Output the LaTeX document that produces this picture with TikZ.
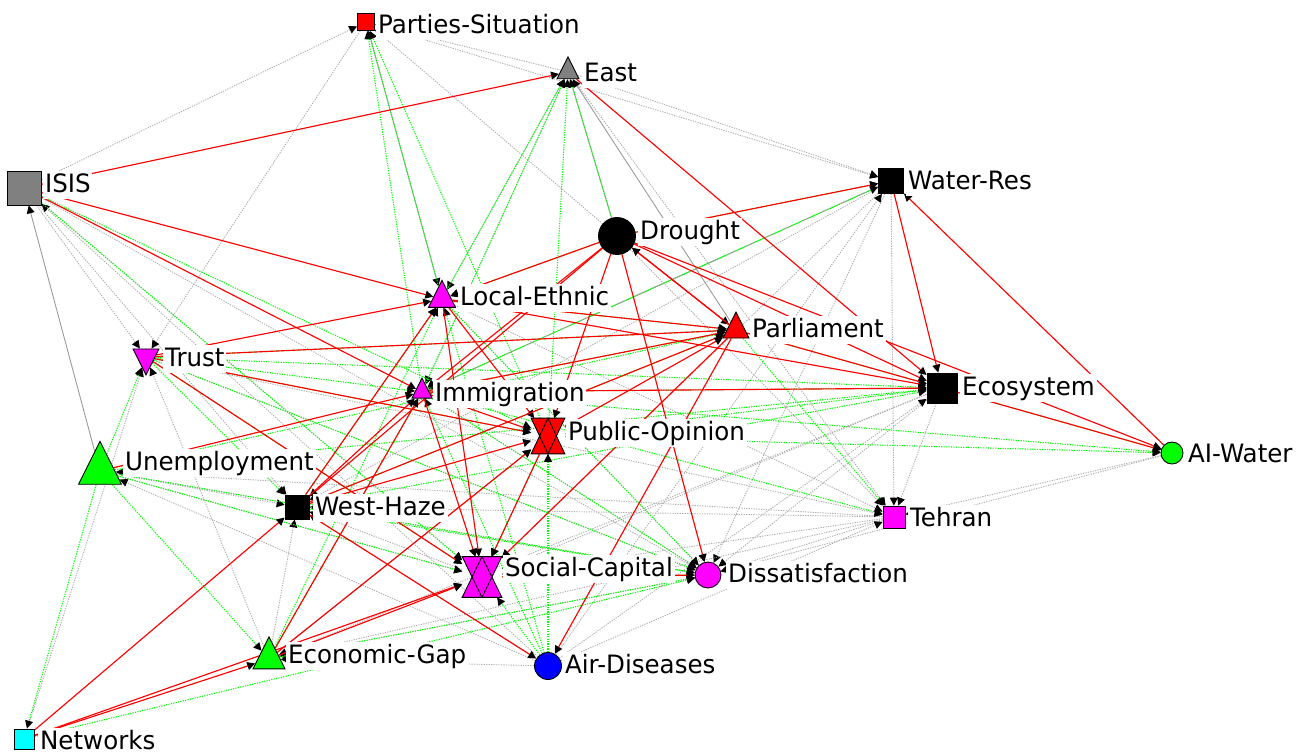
\documentclass[tikz,border=0pt]{standalone}
\usepackage{fontspec}
\newfontfamily\lblfont{DejaVu Sans}[FakeStretch=0.97]
\usetikzlibrary{shapes.geometric,arrows.meta}
\pgfdeclarelayer{bg}
\pgfsetlayers{bg,main}
\definecolor{nred}{RGB}{255,0,0}
\definecolor{ngreen}{RGB}{0,255,0}
\definecolor{nmag}{RGB}{255,0,255}
\definecolor{ncyan}{RGB}{0,255,255}
\definecolor{nblue}{RGB}{0,0,255}
\definecolor{ngray}{RGB}{128,128,128}

% two crossed triangles for the hourglass vertices
\newcommand{\hglass}[2]{%
  \fill[#2] (#1.north west) -- (#1.north east) -- (#1.south) -- cycle;
  \fill[#2] (#1.south west) -- (#1.south east) -- (#1.north) -- cycle;
  \draw[line width=0.5pt] (#1.north west) -- (#1.north east) -- (#1.south) -- cycle
    (#1.south west) -- (#1.south east) -- (#1.north) -- cycle;}

\begin{document}
\begin{tikzpicture}[
	x=0.02cm, y=-0.02cm,                      % one unit = one pixel of the layout
	vtx/.style={draw=black, line width=0.5pt, inner sep=0pt},
	sq/.style={vtx, rectangle, minimum size=#1},
	dot/.style={vtx, circle, minimum size=#1},
	tri/.style={vtx, isosceles triangle, isosceles triangle stretches,
		shape border rotate=90, minimum width=#1, minimum height=#1},
	itri/.style={tri=#1, shape border rotate=270},
	hg/.style={rectangle, inner sep=0pt, minimum width=#1},
	lbl/.style={anchor=west, fill=white, inner sep=1pt, text height=11pt, text depth=3pt,
		font=\lblfont\fontsize{14.4}{16}\selectfont},
	tip/.style={-{Triangle[length=4.5pt,width=4.5pt,black]}},
	redE/.style={tip, nred, line width=0.65pt},
	grnE/.style={tip, ngreen, line width=0.6pt, dash pattern=on 0.7pt off 0.7pt},
	gryE/.style={tip, black!33, line width=0.5pt, dash pattern=on 0.7pt off 0.7pt},
	grsE/.style={tip, black!40, line width=0.5pt}
	]
	\useasboundingbox (0,0) rectangle (1309,754);

	% vertices
	\node[sq=0.34cm, fill=nred]    (ps)    at (366,22)  {};
	\node[tri=0.44cm, fill=ngray]  (east)  at (568,72)  {};
	\node[sq=0.68cm, fill=ngray]   (isis)  at (24,188)  {};
	\node[sq=0.5cm, fill=black]    (wr)    at (891,181) {};
	\node[dot=0.74cm, fill=black]  (dr)    at (617,236) {};
	\node[tri=0.54cm, fill=nmag]   (le)    at (442,299) {};
	\node[tri=0.52cm, fill=nred]   (parl)  at (736,330) {};
	\node[itri=0.52cm, fill=nmag]  (trust) at (146,357) {};
	\node[tri=0.4cm, fill=nmag]    (imm)   at (422,392) {};
	\node[sq=0.6cm, fill=black]    (eco)   at (942,388) {};
	\node[hg=0.66cm, minimum height=0.7cm] (po) at (548,436) {};
	\node[dot=0.44cm, fill=ngreen] (aiw)   at (1172,453) {};
	\node[tri=0.86cm, fill=ngreen] (unemp) at (100,471) {};
	\node[sq=0.48cm, fill=black]   (wh)    at (297,507) {};
	\node[sq=0.44cm, fill=nmag]    (teh)   at (894,517) {};
	\node[hg=0.78cm, minimum height=0.8cm] (sc) at (482,577) {};
	\node[dot=0.52cm, fill=nmag]   (dis)   at (708,575) {};
	\node[tri=0.64cm, fill=ngreen] (eg)    at (269,659) {};
	\node[dot=0.54cm, fill=nblue]  (air)   at (548,666) {};
	\node[sq=0.4cm, fill=ncyan]    (net)   at (24,739)  {};
	\hglass{po}{nred}
	\hglass{sc}{nmag}

	% connectors
	\begin{pgfonlayer}{bg}
	\foreach \a/\b in {isis/ps, isis/trust, isis/wh, isis/sc, isis/dis, air/isis,
		ps/trust, dr/ps, east/ps, ps/wr, east/imm, east/wr, east/teh, east/le,
		dr/teh, wr/sc, wr/teh, wr/dis, wr/wh, air/wr,
		eco/dis, eco/teh, air/eco, eco/sc, eco/eg,
		teh/dis, teh/sc, teh/eg, teh/unemp, teh/wh, air/teh, aiw/dis, aiw/teh,
		air/wh, air/eg, air/unemp, unemp/dis, unemp/sc, unemp/wh,
		net/trust, eg/wh, eg/trust, eg/dis, sc/wh, le/teh, imm/dis, le/dis,
		trust/dis, trust/teh}
		\draw[gryE] (\a) -- (\b);
	\foreach \a/\b in {dr/east, parl/east, ps/le, wr/imm, eg/po}
		\draw[grsE] (\a) -- (\b);
	\draw[grsE, {Triangle[length=4.5pt,width=4.5pt,black]}-] (isis) -- (unemp);
	\foreach \a/\b in {le/ps, imm/ps, po/ps, le/east, imm/east, po/east, dr/east,
		isis/po, isis/sc, dr/le, dr/wr, imm/wr,
		trust/parl, unemp/parl, wh/parl, imm/parl, le/parl, parl/teh,
		trust/eco, unemp/eco, imm/eco, po/eco, wh/eco, parl/eco,
		eco/aiw, po/aiw, imm/aiw, imm/teh, trust/sc, unemp/sc, po/sc,
		unemp/dis, trust/dis, imm/dis, wh/dis, eg/dis, net/dis, sc/dis, le/dis,
		air/imm, air/le, air/sc, air/po, unemp/trust, unemp/eg, unemp/net,
		trust/imm, trust/wh, trust/po, eg/le, eg/imm, wh/le}
		\draw[grnE] (\a) -- (\b);
	\foreach \a/\b in {isis/east, isis/le, isis/imm,
		dr/le, dr/imm, dr/wh, dr/po, dr/dis, dr/parl, dr/eco, dr/aiw, dr/wr, parl/dr,
		east/eco, wr/eco, eco/aiw, parl/eco, parl/air, parl/sc,
		le/parl, le/eco, le/sc, le/po, trust/le, trust/parl, trust/po, trust/sc,
		imm/eco, imm/po, imm/sc, imm/parl, unemp/imm,
		wh/imm, wh/le, wh/po, wh/air, wh/parl, net/wh, net/eg, net/sc,
		eg/sc, eg/imm, eg/po, po/sc, po/parl, sc/dis}
		\draw[redE] (\a) -- (\b);
	\draw[redE, {Triangle[length=4.5pt,width=4.5pt,black]}-] (wr) -- (aiw);
	\end{pgfonlayer}

	% labels
	\node[lbl] (ps-t)    at (376,26)   {Parties-Situation};
	\node[lbl] (east-t)  at (582,74)   {East};
	\node[lbl] (isis-t)  at (43,185)   {ISIS};
	\node[lbl] (wr-t)    at (906,182)  {Water-Res};
	\node[lbl] (dr-t)    at (638,232)  {Drought};
	\node[lbl] (le-t)    at (458,298)  {Local-Ethnic};
	\node[lbl] (parl-t)  at (750,330)  {Parliament};
	\node[lbl] (trust-t) at (163,359)  {Trust};
	\node[lbl] (imm-t)   at (433,394)  {Immigration};
	\node[lbl] (eco-t)   at (960,388)  {Ecosystem};
	\node[lbl] (po-t)    at (566,433)  {Public-Opinion};
	\node[lbl] (aiw-t)   at (1186,455) {AI-Water};
	\node[lbl] (unemp-t) at (123,463)  {Unemployment};
	\node[lbl] (wh-t)    at (313,508)  {West-Haze};
	\node[lbl] (teh-t)   at (908,519)  {Tehran};
	\node[lbl] (sc-t)    at (503,569)  {Social-Capital};
	\node[lbl] (dis-t)   at (726,575)  {Dissatisfaction};
	\node[lbl] (eg-t)    at (286,656)  {Economic-Gap};
	\node[lbl] (air-t)   at (563,666)  {Air-Diseases};
	\node[lbl] (net-t)   at (38,742)   {Networks};
\end{tikzpicture}
\end{document}
